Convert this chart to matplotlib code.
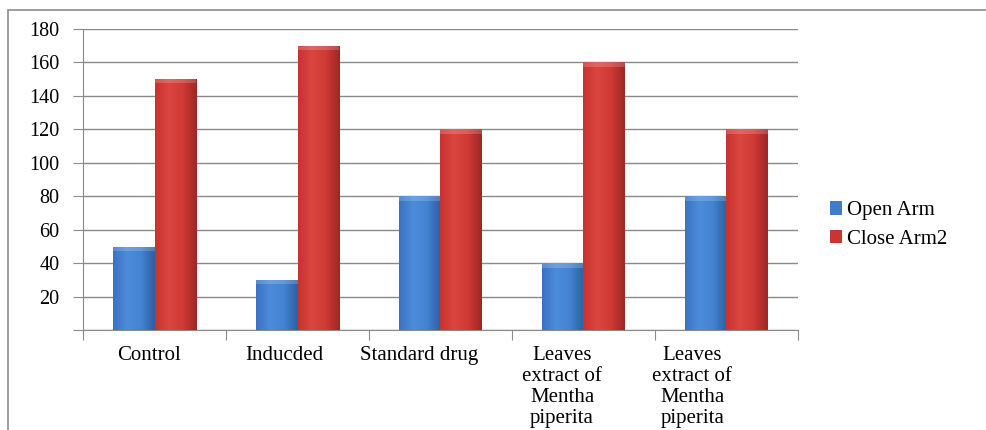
import matplotlib.pyplot as plt
import matplotlib.patches as mpatches
from matplotlib.colors import LinearSegmentedColormap
import numpy as np

# data
categories = ["Control", "Inducded", "Standard drug",
              "Leaves\nextract of\nMentha\npiperita",
              "Leaves\nextract of\nMentha\npiperita"]
open_arm = [50, 30, 80, 40, 80]
close_arm2 = [150, 170, 120, 160, 120]
y_ticks = [0, 20, 40, 60, 80, 100, 120, 140, 160, 180]

plt.rcParams['font.family'] = ['Liberation Serif', 'DejaVu Serif']

fig = plt.figure(figsize=(9.86, 4.30), dpi=100)
ax = fig.add_axes([0.0842, 0.2314, 0.7251, 0.7012])

# outer chart frame (right/bottom edges are cropped in the reference)
fig.patches.append(mpatches.Rectangle((8 / 986, -0.1), 1.1, (430 - 10) / 430 + 0.1,
                                      transform=fig.transFigure, fill=False,
                                      edgecolor='#8c8c8c', linewidth=1.2))

x = np.arange(len(categories))
w = 0.29
blue_bars = ax.bar(x - w / 2, open_arm, w, color='#3f7cc9', edgecolor='none',
                   label='Open Arm', zorder=3)
red_bars = ax.bar(x + w / 2, close_arm2, w, color='#cc3431', edgecolor='none',
                  label='Close Arm2', zorder=3)

# horizontal shading to imitate the bevelled office-style bars
blue_cmap = LinearSegmentedColormap.from_list('b', ['#3a72c0', '#4d8cdb', '#4383d2', '#2e5fa3'])
red_cmap = LinearSegmentedColormap.from_list('r', ['#c8332f', '#dc4540', '#cf3a35', '#9e2725'])
grad = np.linspace(0, 1, 64).reshape(1, -1)
for bars, cmap in [(blue_bars, blue_cmap), (red_bars, red_cmap)]:
    for b in bars:
        x0, y0 = b.get_x(), b.get_y()
        bw, bh = b.get_width(), b.get_height()
        im = ax.imshow(grad, cmap=cmap, aspect='auto', extent=[x0, x0 + bw, y0, y0 + bh],
                       zorder=3.5, interpolation='bicubic')
        im.set_clip_path(b)
        ax.add_patch(mpatches.Rectangle((x0, y0 + bh - 2.5), bw, 2.5, color='white',
                                        alpha=0.18, zorder=4, linewidth=0))

ax.set_xlim(-0.5, len(categories) - 0.5)
ax.set_ylim(0, 180)
ax.set_yticks(y_ticks)
ax.set_yticklabels([''] + [str(v) for v in y_ticks[1:]], fontsize=14.5)
ax.yaxis.grid(True, color='#8a8a8a', linewidth=1.0, zorder=0)
ax.tick_params(axis='y', length=7, color='#8a8a8a', pad=10)

# category boundaries as x ticks, labels drawn separately
ax.set_xticks(np.arange(len(categories) + 1) - 0.5)
ax.set_xticklabels([])
ax.tick_params(axis='x', length=7, color='#8a8a8a')
label_shift = [-0.04, -0.09, -0.15, -0.15, -0.24]
for i, lab in enumerate(categories):
    ax.text(i + label_shift[i], -0.05, lab, transform=ax.get_xaxis_transform(),
            ha='center', va='top', fontsize=15, linespacing=1.15)

for s in ['top', 'right']:
    ax.spines[s].set_visible(False)
ax.spines['left'].set_color('#8a8a8a')
ax.spines['bottom'].set_color('#8a8a8a')

ax.legend(loc='center left', bbox_to_anchor=(1.018, 0.35), frameon=False,
          fontsize=15, handlelength=0.6, handleheight=0.6, handletextpad=0.25,
          labelspacing=0.45)

fig.savefig('out.png', dpi=100)
